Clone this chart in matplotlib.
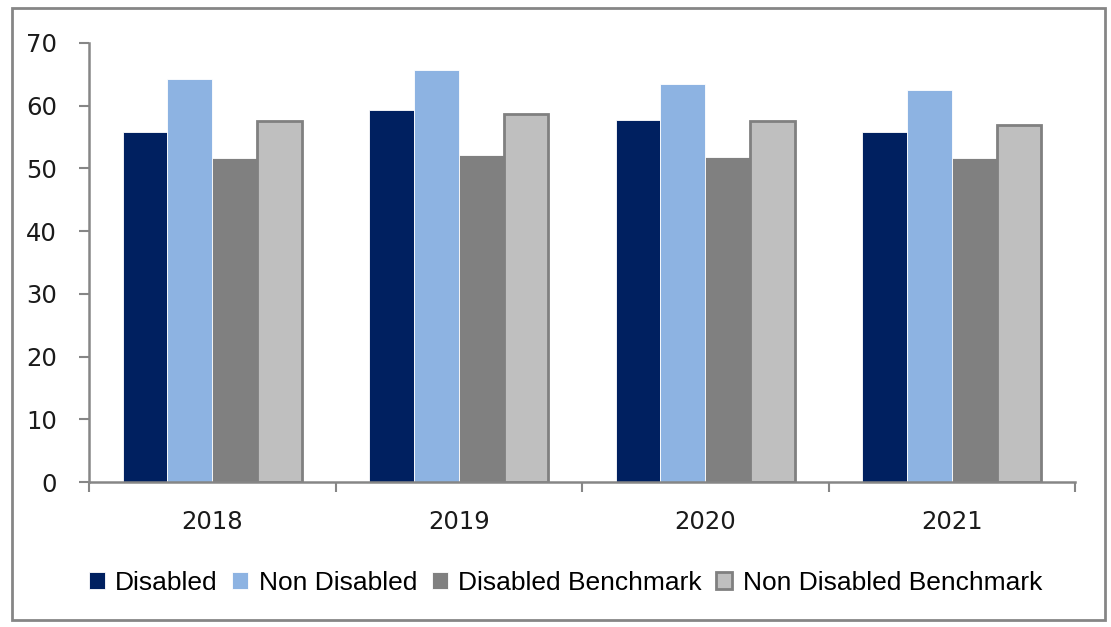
import numpy as np
import matplotlib.pyplot as plt
from matplotlib.patches import Rectangle

# survey years and scores per group
years = ['2018', '2019', '2020', '2021']
disabled = [55.8, 59.3, 57.7, 55.8]
non_disabled = [64.3, 65.7, 63.4, 62.5]
disabled_bench = [51.7, 52.1, 51.9, 51.7]
non_disabled_bench = [57.5, 58.6, 57.5, 57.0]

series = [
    ('Disabled', disabled, '#002060', 'white', 0.6),
    ('Non Disabled', non_disabled, '#8DB3E2', 'white', 0.6),
    ('Disabled Benchmark', disabled_bench, '#808080', 'white', 0.6),
    ('Non Disabled Benchmark', non_disabled_bench, '#BFBFBF', '#808080', 2.0),
]

plt.rcParams['font.family'] = ['DejaVu Sans']

fig = plt.figure(figsize=(11.11, 6.27), dpi=100)
ax = fig.add_axes([89 / 1111, 1 - 482 / 627, (1075 - 89) / 1111, (482 - 43) / 627])

x = np.arange(len(years))
w = 0.182
for i, (name, vals, fc, ec, lw) in enumerate(series):
    ax.bar(x + (i - 1.5) * w, vals, w, color=fc, edgecolor=ec, linewidth=lw,
           label=name, zorder=2)

ax.set_xlim(-0.5, len(years) - 0.5)
ax.set_ylim(0, 70)
ax.set_yticks(range(0, 71, 10))
ax.set_xticks(x)
ax.set_xticklabels(years)
ax.set_xticks(np.arange(-0.5, len(years), 1), minor=True)
ax.tick_params(axis='x', which='major', length=0, pad=20, labelsize=17.5, labelcolor='#1a1a1a')
ax.tick_params(axis='x', which='minor', length=7, width=1.5, color='#868686', direction='out')
ax.tick_params(axis='y', length=7, width=1.5, color='#868686', pad=16, labelsize=17.5,
               labelcolor='#1a1a1a')
for s in ['top', 'right']:
    ax.spines[s].set_visible(False)
for s in ['left', 'bottom']:
    ax.spines[s].set_color('#868686')
    ax.spines[s].set_linewidth(1.8)

leg = fig.legend(loc='center', bbox_to_anchor=(0.509, 1 - 583 / 627), ncol=4, frameon=False,
                 prop={'family': 'Liberation Sans', 'size': 19},
                 handlelength=0.6, handleheight=0.6, handletextpad=0.4, columnspacing=0.55)

# grey frame around the whole chart
fig.patches.append(Rectangle((12 / 1111, 1 - 620 / 627), (1105 - 12) / 1111, (620 - 8) / 627,
                             transform=fig.transFigure, fill=False, edgecolor='#868686',
                             linewidth=2))

fig.savefig('out.png', dpi=100, facecolor='white')
